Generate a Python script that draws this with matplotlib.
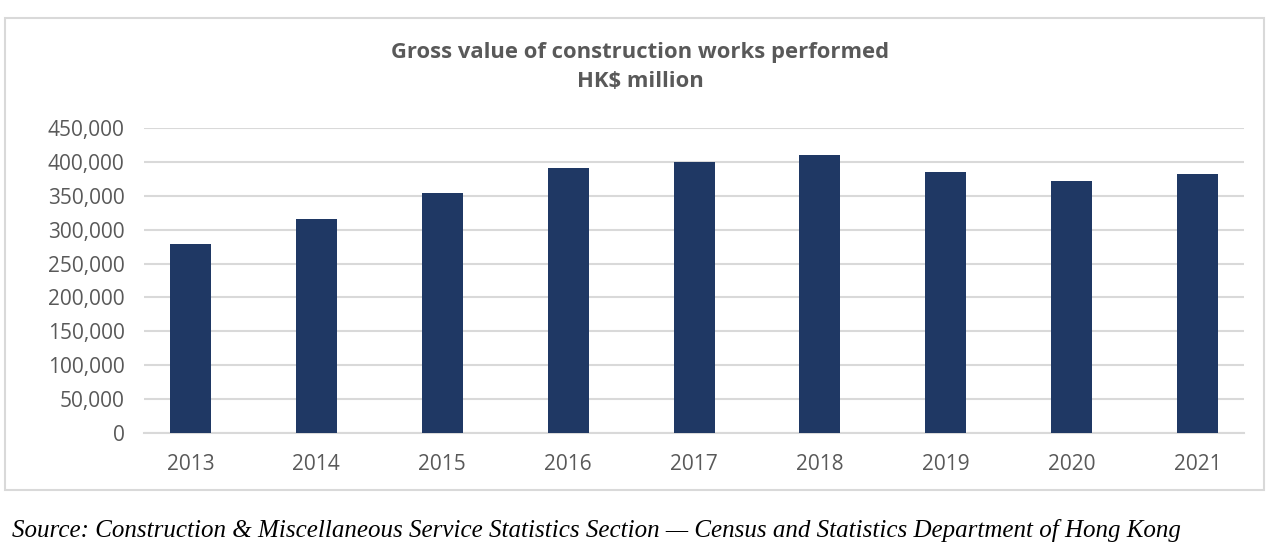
import matplotlib.pyplot as plt
from matplotlib.patches import Rectangle
from matplotlib.ticker import FuncFormatter

years = ["2013", "2014", "2015", "2016", "2017", "2018", "2019", "2020", "2021"]
gross_value = [278800, 315200, 354000, 390400, 400200, 410000, 385400, 372100, 382500]
y_ticks = [0, 50000, 100000, 150000, 200000, 250000, 300000, 350000, 400000, 450000]

BAR = "#1f3864"
TXT = "#595959"
GRID = "#d9d9d9"

fig = plt.figure(figsize=(12.8, 5.55), dpi=100)
fig.patch.set_facecolor("white")

# outer chart frame
fig.patches.append(Rectangle((5 / 1280, 1 - 490 / 555), 1259 / 1280, 472 / 555,
                             transform=fig.transFigure, fill=False,
                             edgecolor=GRID, lw=1.5))

ax = fig.add_axes([144 / 1280, 1 - 433 / 555, 1100 / 1280, 305 / 555])
x = range(len(years))
ax.bar(x, gross_value, width=0.326, color=BAR, zorder=3)

ax.set_xlim(-0.369, 8.368)
ax.set_ylim(0, 450000)
ax.set_yticks(y_ticks)
ax.yaxis.set_major_formatter(FuncFormatter(lambda v, _: f"{int(v):,}"))
ax.set_xticks(list(x))
ax.set_xticklabels(years)
ax.grid(axis="y", color=GRID, lw=1.5, zorder=0)
for s in ["top", "right", "left"]:
    ax.spines[s].set_visible(False)
ax.spines["bottom"].set_color(GRID)
ax.spines["bottom"].set_linewidth(1.5)
ax.tick_params(axis="both", length=0, labelsize=15, colors=TXT, labelfontfamily="Open Sans")
ax.tick_params(axis="y", pad=14)
ax.tick_params(axis="x", pad=15)

fig.text(0.5, 1 - 67 / 555, "Gross value of construction works performed\nHK$ million",
         ha="center", va="center", fontsize=15.8, fontweight="bold", color=TXT,
         family="Open Sans", linespacing=1.55)

fig.text(12 / 1280, 1 - 531 / 555,
         "Source: Construction & Miscellaneous Service Statistics Section \u2014 Census and Statistics Department of Hong Kong",
         ha="left", va="center", fontsize=18, style="italic", family="Liberation Serif", color="black")

fig.savefig("out.png", dpi=100, facecolor="white")
